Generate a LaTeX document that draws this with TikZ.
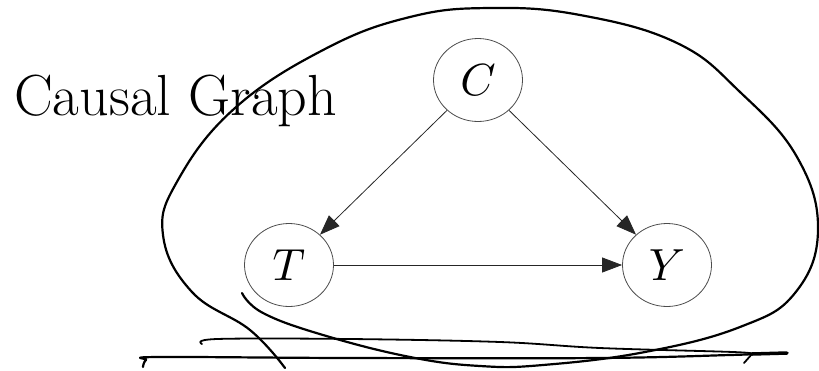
\documentclass[tikz,border=0pt]{standalone}
\usepackage{graphicx}
\usetikzlibrary{arrows.meta,shapes.geometric}
\newcommand{\bigvar}[1]{\scalebox{4.5}{$#1$}}
\begin{document}
\begin{tikzpicture}[x=1pt,y=-1pt,
  var/.style={ellipse, draw=black!70, line width=0.8pt, minimum width=89pt, minimum height=83pt, inner sep=0pt},
  arr/.style={-{Triangle[length=20pt,width=15pt]}, draw=black!85, line width=0.8pt},
  hand/.style={draw=black, line width=2.2pt, line cap=round, line join=round}]
\useasboundingbox (0,0) rectangle (819,370);
\node[anchor=base west, inner sep=0pt, font=\fontsize{58}{68}\selectfont] (title) at (14,115) {Causal Graph};
\node[var] (C) at (478,80) {\bigvar{C}};
\node[var] (T) at (289,265) {\bigvar{T}};
\node[var] (Y) at (667,265) {\bigvar{Y}};
\draw[arr] (C) -- (T);
\draw[arr] (C) -- (Y);
\draw[arr] (T) -- (Y);
% hand-drawn loop
\draw[hand] plot[smooth, tension=0.7] coordinates {
  (285,368) (250,330) (192,292) (163,235) (178,180) (235,108) (325,49)
  (410,17) (490,8) (580,15) (677,43) (740,92) (797,157) (818,230)
  (795,293) (740,327) (645,352) (543,365) (480,366) (410,357) (323,335)
  (263,313) (242,293)};
% upper scribble stroke
\draw[hand, line width=1.8pt] plot[smooth, tension=0.6] coordinates {
  (202,344) (217,339) (350,339) (500,342) (600,348) (733,352) (752,354)} -- (744,363);
% lower scribble stroke
\draw[hand] plot[smooth, tension=0.6] coordinates {
  (143,367) (146,360) (158,357) (347,358) (600,358) (730,355) (753,354)};
\draw[hand, line width=3.5pt] (752,354) -- (787,353);
\end{tikzpicture}
\end{document}
